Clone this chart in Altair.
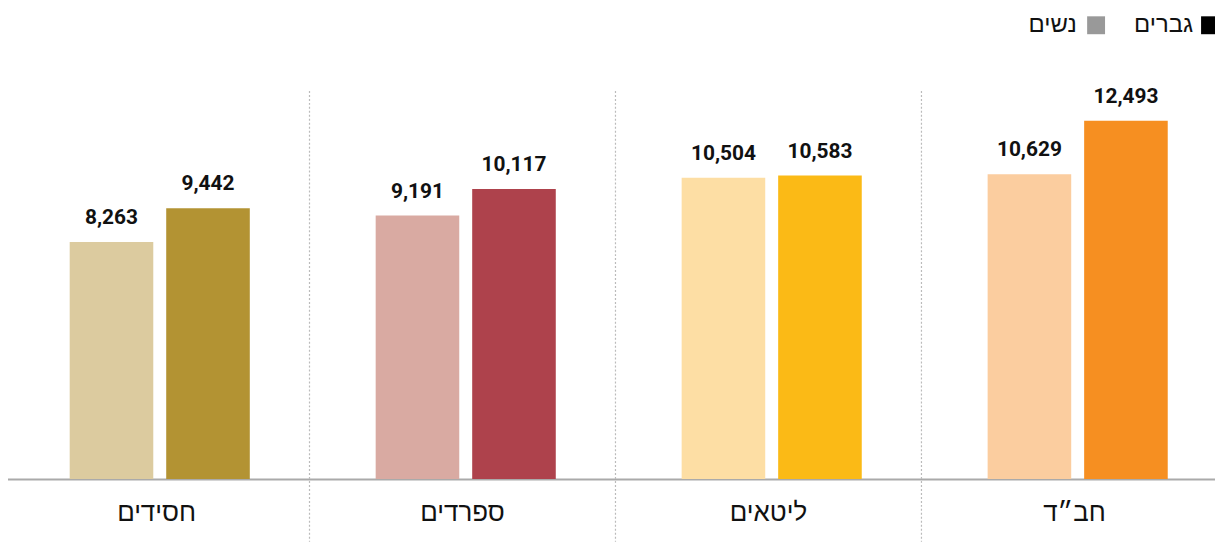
import altair as alt
import pandas as pd

groups = ["חסידים", "ספרדים", "ליטאים", "חב״ד"]
women = [8263, 9191, 10504, 10629]
men = [9442, 10117, 10583, 12493]
women_colors = ["#DCCB9F", "#D9AAA2", "#FDDEA4", "#FBCD9F"]
men_colors = ["#B39333", "#AE424C", "#FBBA16", "#F68F21"]
sexes = ["נשים", "גברים"]
legend_labels = ["גברים", "נשים"]
legend_colors = ["#000000", "#999999"]

rows = []
keys = []
colors = []
for g, w, m, wc, mc in zip(groups, women, men, women_colors, men_colors):
    rows.append({"group": g, "sex": sexes[0], "value": w, "key": g + "|" + sexes[0]})
    rows.append({"group": g, "sex": sexes[1], "value": m, "key": g + "|" + sexes[1]})
    keys += [g + "|" + sexes[0], g + "|" + sexes[1]]
    colors += [wc, mc]
df = pd.DataFrame(rows)
sep_df = pd.DataFrame({"group": groups[1:]})

x_scale = alt.Scale(domain=groups, range=[-4.5, 1225.5], paddingInner=0, paddingOuter=0)
x_axis = alt.Axis(labelAngle=0, ticks=False, grid=False, domain=True,
                  domainColor="#aaaaaa", domainWidth=2,
                  labelFont="Liberation Sans", labelFontSize=26,
                  labelColor="#111111", labelBaseline="middle",
                  labelPadding=34, title=None)
xoff = alt.XOffset("sex:N", scale=alt.Scale(domain=sexes, range=[66.5, 247.5],
                                             paddingInner=13 / 97, paddingOuter=0))
y_enc = alt.Y("value:Q", scale=alt.Scale(domain=[0, 16380], nice=False), axis=None)

base = alt.Chart(df)

bars = base.mark_bar().encode(
    x=alt.X("group:N", scale=x_scale, sort=groups, axis=x_axis),
    xOffset=xoff,
    y=y_enc,
    color=alt.Color("key:N", scale=alt.Scale(domain=keys, range=colors), legend=None),
)

labels = base.mark_text(dy=-18, baseline="alphabetic",
                        font="Roboto", fontWeight="bold", fontSize=21,
                        color="#111111").encode(
    x=alt.X("group:N", scale=x_scale, sort=groups, axis=x_axis),
    xOffset=xoff,
    y=y_enc,
    text=alt.Text("value:Q", format=",d"),
)

seps = alt.Chart(sep_df).mark_rule(strokeDash=[2, 2], color="#bbbbbb", strokeWidth=1.2).encode(
    x=alt.X("group:N", scale=x_scale, sort=groups, bandPosition=0, axis=x_axis),
    y=alt.value(82),
    y2=alt.value(535),
)

leg_layers = []
sq_x = [1208, 1093.5]
tx_x = [1191, 1074]
for lab, col, sx, tx in zip(legend_labels, legend_colors, sq_x, tx_x):
    ldf = pd.DataFrame({"label": [lab]})
    leg_layers.append(alt.Chart(ldf).mark_square(size=324, color=col, opacity=1).encode(
        x=alt.value(sx), y=alt.value(16)))
    leg_layers.append(alt.Chart(ldf).mark_text(align="right", baseline="middle",
                                               font="Liberation Sans", fontSize=24,
                                               color="#111111").encode(
        x=alt.value(tx), y=alt.value(16), text="label:N"))

chart = alt.layer(bars, labels, seps, *leg_layers).properties(
    width=1213, height=472,
    padding={"left": 0, "right": 0, "top": 0, "bottom": 72},
    autosize=alt.AutoSizeParams(type="none"),
).configure_view(stroke=None)

chart.save("out.html", embed_options={"renderer": "svg", "actions": False})
